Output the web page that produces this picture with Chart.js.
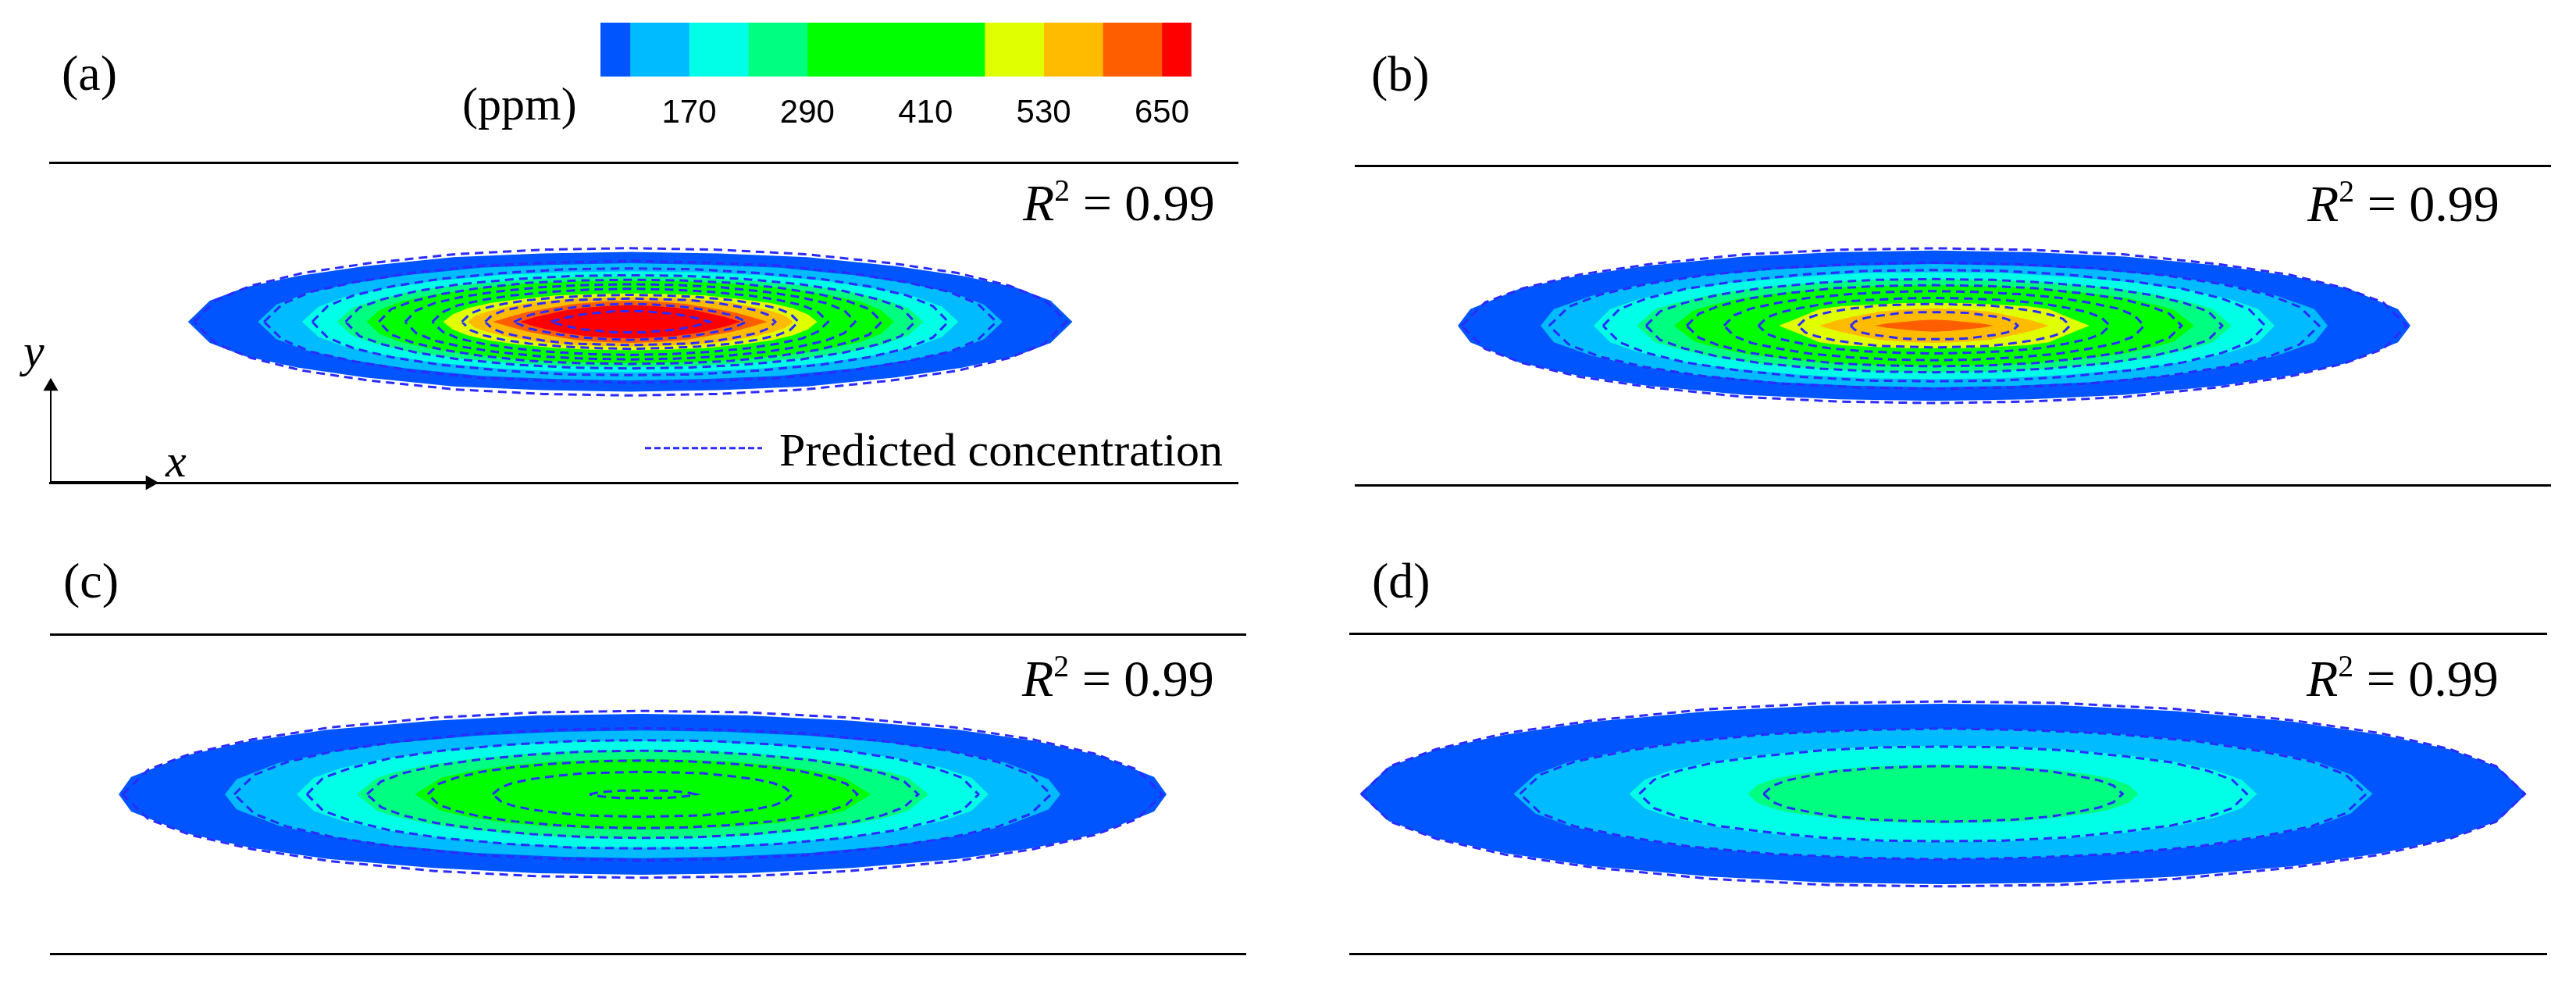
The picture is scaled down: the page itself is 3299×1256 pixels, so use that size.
<!DOCTYPE html>
<html>
<head>
<meta charset="utf-8">
<title>Predicted concentration contours</title>
<script src="https://cdn.jsdelivr.net/npm/chart.js"></script>
<style>
  html, body { margin: 0; background: #fff; overflow: hidden; }
  #page { position: relative; width: 3299px; height: 1256px; }
  canvas { position: absolute; }
  .lbl { position: absolute; font-family: "Liberation Serif", serif; color: #000; line-height: 1; white-space: nowrap; }
  .lbl sup { font-size: 0.6em; line-height: 0; vertical-align: 0.62em; }
  .lbl i { font-style: italic; }
</style>
</head>
<body>
<div id="page"></div>
<script>
// colour bar, ppm
const barEdges = [80, 110, 170, 230, 290, 470, 530, 590, 650, 680];
const barColors = ["#0055ff", "#00bbff", "#00ffe6", "#00ff80", "#00ff00", "#e0ff00", "#ffbb00", "#ff5e00", "#ff0000"];
const barTicks = [170, 290, 410, 530, 650];

// each contour is one half profile: [distance from centre along x], [half height]
const aFill = [
  [[0,114,228,342,428,496,542,570], [93,91,86,74,61,46,28,0]],
  [[0,96,192,288,360,418,456,480], [78,76,72,62,51,38,23,0]],
  [[0,85,169,254,317,368,402,423], [67,66,62,54,44,33,20,0]],
  [[0,76,151,227,284,329,359,378], [60,59,55,48,40,29,18,0]],
  [[0,68,136,204,255,296,323,340], [55,54,51,44,36,27,16,0]],
  [[0,48,96,145,181,210,229,241], [38,37,35,30,25,18,10,0]],
  [[0,42,84,126,158,183,200,210], [33,32,30,26,20,14,8,0]],
  [[0,35,71,106,133,154,177], [28,27,24,18,13,7,0]],
  [[0,28,57,85,107,124,142], [22,21,19,15,10,6,0]]
];
const aFillColors = ["#0055ff", "#00bbff", "#00ffe6", "#00ff80", "#00ff00", "#e0ff00", "#ffbb00", "#ff5e00", "#ff0000"];
const aDash = [
  [[0,112,225,337,422,489,534,562], [98,96,90,78,65,48,29,0]],
  [[0,94,189,283,354,411,448,472], [81,79,75,65,53,40,24,0]],
  [[0,82,164,246,308,357,390,410], [71,70,65,57,47,35,21,0]],
  [[0,73,147,220,275,319,349,367], [62,61,57,50,41,30,19,0]],
  [[0,65,130,194,243,282,308,324], [56,55,52,45,37,27,17,0]],
  [[0,58,116,174,218,252,276,290], [50,49,46,40,33,25,15,0]],
  [[0,51,102,153,191,222,242,255], [44,43,40,35,29,22,13,0]],
  [[0,43,87,130,163,189,206,217], [36,35,33,29,24,18,11,0]],
  [[0,37,75,112,140,163,178,187], [31,30,29,25,20,15,9,0]],
  [[0,30,60,90,112,130,150], [24,23,21,17,13,9,0]],
  [[0,20,41,61,76,89,102], [14,14,12,10,7,4,0]]
];

const bFill = [
  [[0,122,244,366,458,531,594,610], [100,98,92,80,66,49,22,0]],
  [[0,101,202,302,378,438,487,504], [82,80,75,66,54,40,22,0]],
  [[0,87,174,262,327,379,415,436], [71,70,65,57,47,35,22,0]],
  [[0,76,152,229,286,331,357,381], [62,61,57,50,41,30,22,0]],
  [[0,67,133,200,250,290,307,333], [54,53,50,43,36,26,21,0]],
  [[0,40,80,119,147,170,199], [30,30,28,26,22,12,0]],
  [[0,29,70,104,125,147], [23,22,19,12,7,0]],
  [[0,20,40,60,76], [8,7,5,3,0]]
];
const bFillColors = ["#0055ff", "#00bbff", "#00ffe6", "#00ff80", "#00ff00", "#e0ff00", "#ffbb00", "#ff5e00"];
const bDash = [
  [[0,121,242,363,454,526,575,605], [103,101,95,82,68,50,31,0]],
  [[0,99,197,296,370,429,468,493], [84,82,77,67,55,41,25,0]],
  [[0,85,170,254,318,369,403,424], [74,73,68,59,49,36,22,0]],
  [[0,74,148,221,277,321,351,369], [62,61,57,50,41,30,19,0]],
  [[0,63,127,190,238,276,301,317], [54,53,50,43,36,26,16,0]],
  [[0,54,108,161,202,234,256,269], [46,45,42,37,30,23,14,0]],
  [[0,45,90,135,169,196,214,225], [37,36,34,30,24,18,11,0]],
  [[0,35,70,104,130,151,165,174], [29,28,27,23,19,14,9,0]],
  [[0,21,43,64,80,93,102,107], [18,18,17,14,12,9,5,0]]
];

const cFill = [
  [[0,134,268,403,503,584,655,671], [107,105,98,86,71,52,23,0]],
  [[0,107,214,321,401,465,520,535], [85,83,78,68,56,42,20,0]],
  [[0,89,177,266,332,385,421,443], [71,70,65,57,47,35,22,0]],
  [[0,73,146,220,275,318,340,366], [59,58,54,47,39,29,22,0]],
  [[0,58,117,175,219,258,292], [47,46,43,38,31,22,0]]
];
const cFillColors = ["#0055ff", "#00bbff", "#00ffe6", "#00ff80", "#00ff00"];
const cDash = [
  [[0,133,266,400,500,579,633,666], [111,109,102,89,73,54,33,0]],
  [[0,105,209,314,392,455,497,523], [88,86,81,70,58,43,26,0]],
  [[0,86,172,258,323,374,409,430], [72,71,66,58,48,35,22,0]],
  [[0,71,141,212,265,307,335,353], [58,57,53,46,38,28,17,0]],
  [[0,55,110,165,206,239,261,275], [45,44,41,36,30,22,14,0]],
  [[0,38,77,115,144,167,182,192], [30,29,28,24,20,15,9,0]],
  [[0,14,27,41,51,59,68], [5,5,5,4,3,2,0]]
];

const dFill = [
  [[0,149,299,448,560,650,710,747], [120,118,110,96,79,59,36,0]],
  [[0,110,220,330,412,478,522,550], [87,85,80,70,57,43,26,0]],
  [[0,80,161,241,301,350,382,402], [64,63,59,51,42,31,19,0]],
  [[0,50,100,150,188,213,238,250], [39,38,36,31,26,21,12,0]]
];
const dFillColors = ["#0055ff", "#00bbff", "#00ffe6", "#00ff80"];
const dDash = [
  [[0,149,298,447,559,648,708,745], [123,121,113,98,81,60,37,0]],
  [[0,108,217,325,406,472,515,542], [87,85,80,70,57,43,26,0]],
  [[0,78,156,233,292,338,370,389], [63,62,58,50,42,31,19,0]],
  [[0,46,92,138,172,200,218,230], [37,36,34,30,24,18,11,0]]
];

const DASH_COLOR = "#2b2bff";
const PAD = 6;
const page = document.getElementById("page");

// walk a half profile round the whole closed contour
function loop(xs, hs) {
  const n = xs.length, pts = [];
  for (let i = n - 1; i > 0; i--) pts.push({ x: -xs[i], y: hs[i] });
  for (let i = 0; i < n; i++) pts.push({ x: xs[i], y: hs[i] });
  for (let i = n - 2; i >= 0; i--) pts.push({ x: xs[i], y: -hs[i] });
  for (let i = 1; i < n; i++) pts.push({ x: -xs[i], y: -hs[i] });
  return pts;
}

function addCanvas(left, top, width, height) {
  const c = document.createElement("canvas");
  c.width = width;
  c.height = height;
  c.style.left = left + "px";
  c.style.top = top + "px";
  c.style.width = width + "px";
  c.style.height = height + "px";
  page.appendChild(c);
  return c.getContext("2d");
}

function panelChart(p, fills, colors, dashes, extra) {
  const datasets = [];
  (extra || []).forEach(d => datasets.push(d));
  dashes.forEach(c => datasets.push({
    data: loop(c[0], c[1]), showLine: true, fill: false, pointRadius: 0,
    borderColor: DASH_COLOR, borderWidth: 3, borderDash: [11, 7], clip: false
  }));
  // first dataset is painted last, so the innermost fill goes first
  for (let i = fills.length - 1; i >= 0; i--) {
    datasets.push({
      data: loop(fills[i][0], fills[i][1]), showLine: true, fill: "shape", pointRadius: 0,
      backgroundColor: colors[i], borderColor: colors[i], borderWidth: 0, clip: false
    });
  }
  const hidden = { display: false };
  const edge = { display: true, color: "#000", width: 3 };
  new Chart(addCanvas(p.left - PAD, p.top - PAD, p.right - p.left + 2 * PAD, p.bottom - p.top + 2 * PAD), {
    type: "scatter",
    data: { datasets },
    options: {
      responsive: false,
      animation: false,
      layout: { padding: PAD },
      plugins: { legend: hidden, tooltip: { enabled: false } },
      scales: {
        x: { type: "linear", position: "bottom", min: p.left - p.cx, max: p.right - p.cx, ticks: hidden, grid: hidden, border: edge },
        top: { type: "linear", axis: "x", position: "top", min: p.left - p.cx, max: p.right - p.cx, ticks: hidden, grid: hidden, border: edge },
        y: { display: false, min: p.cy - p.bottom, max: p.cy - p.top }
      }
    }
  });
}

const panelA = { left: 59, right: 1590, top: 200, bottom: 626, cx: 807, cy: 412 };
const panelB = { left: 1736, right: 3266, top: 204, bottom: 629, cx: 2477, cy: 417 };
const panelC = { left: 65, right: 1595, top: 804, bottom: 1229, cx: 823, cy: 1017 };
const panelD = { left: 1729, right: 3261, top: 803, bottom: 1229, cx: 2488.5, cy: 1016.5 };

// x, y arrows and the legend sample live in panel (a)
const arrowY = { data: [{ x: -747, y: -214 }, { x: -747, y: -86 }], showLine: true, borderColor: "#000", borderWidth: 2,
  pointStyle: "triangle", pointRadius: [0, 11], pointBackgroundColor: "#000", pointBorderWidth: 0, clip: false };
const arrowX = { data: [{ x: -747, y: -214 }, { x: -619, y: -214 }], showLine: true, borderColor: "#000", borderWidth: 4,
  pointStyle: "triangle", pointRotation: 90, pointRadius: [0, 11], pointBackgroundColor: "#000", pointBorderWidth: 0, clip: false };
const legendLine = { data: [{ x: 19, y: -168 }, { x: 170, y: -168 }], showLine: true, borderColor: DASH_COLOR, borderWidth: 3,
  borderDash: [8, 4], pointRadius: 0, clip: false };

panelChart(panelA, aFill, aFillColors, aDash, [arrowY, arrowX, legendLine]);
panelChart(panelB, bFill, bFillColors, bDash);
panelChart(panelC, cFill, cFillColors, cDash);
panelChart(panelD, dFill, dFillColors, dDash);

// colour bar
new Chart(addCanvas(769, 29, 768, 135), {
  type: "bar",
  data: {
    labels: ["ppm"],
    datasets: barColors.map((col, i) => ({
      data: [[barEdges[i], barEdges[i + 1]]], backgroundColor: col, borderWidth: 0,
      grouped: false, barPercentage: 1, categoryPercentage: 1
    }))
  },
  options: {
    indexAxis: "y",
    responsive: false,
    animation: false,
    plugins: { legend: { display: false }, tooltip: { enabled: false } },
    scales: {
      x: {
        type: "linear", min: barEdges[0], max: barEdges[barEdges.length - 1],
        grid: { display: false }, border: { display: false },
        afterBuildTicks: s => { s.ticks = barTicks.map(v => ({ value: v })); },
        afterFit: s => { s.height = 66; },
        ticks: { color: "#000", padding: 14, maxRotation: 0, autoSkip: false,
          font: { family: "Liberation Sans", size: 42 } }
      },
      y: { display: false }
    }
  }
});

// text: left edge, baseline, size
const labels = [
  ["(a)", 79, 116, 64], ["(b)", 1756, 117, 64], ["(c)", 81, 766, 64], ["(d)", 1757, 766, 64],
  ["(ppm)", 592, 153, 60],
  ["<i>R</i><sup>2</sup> = 0.99", 1310, 282, 66], ["<i>R</i><sup>2</sup> = 0.99", 2955, 283, 66],
  ["<i>R</i><sup>2</sup> = 0.99", 1309, 891, 66], ["<i>R</i><sup>2</sup> = 0.99", 2954, 891, 66],
  ["Predicted concentration", 998, 596, 60],
  ["<i>x</i>", 212, 610, 60], ["<i>y</i>", 30, 469, 60]
];
labels.forEach(([html, x, base, size]) => {
  const el = document.createElement("div");
  el.className = "lbl";
  el.innerHTML = html;
  el.style.left = x + "px";
  el.style.top = (base - 0.8375 * size) + "px";
  el.style.fontSize = size + "px";
  page.appendChild(el);
});
</script>
</body>
</html>
